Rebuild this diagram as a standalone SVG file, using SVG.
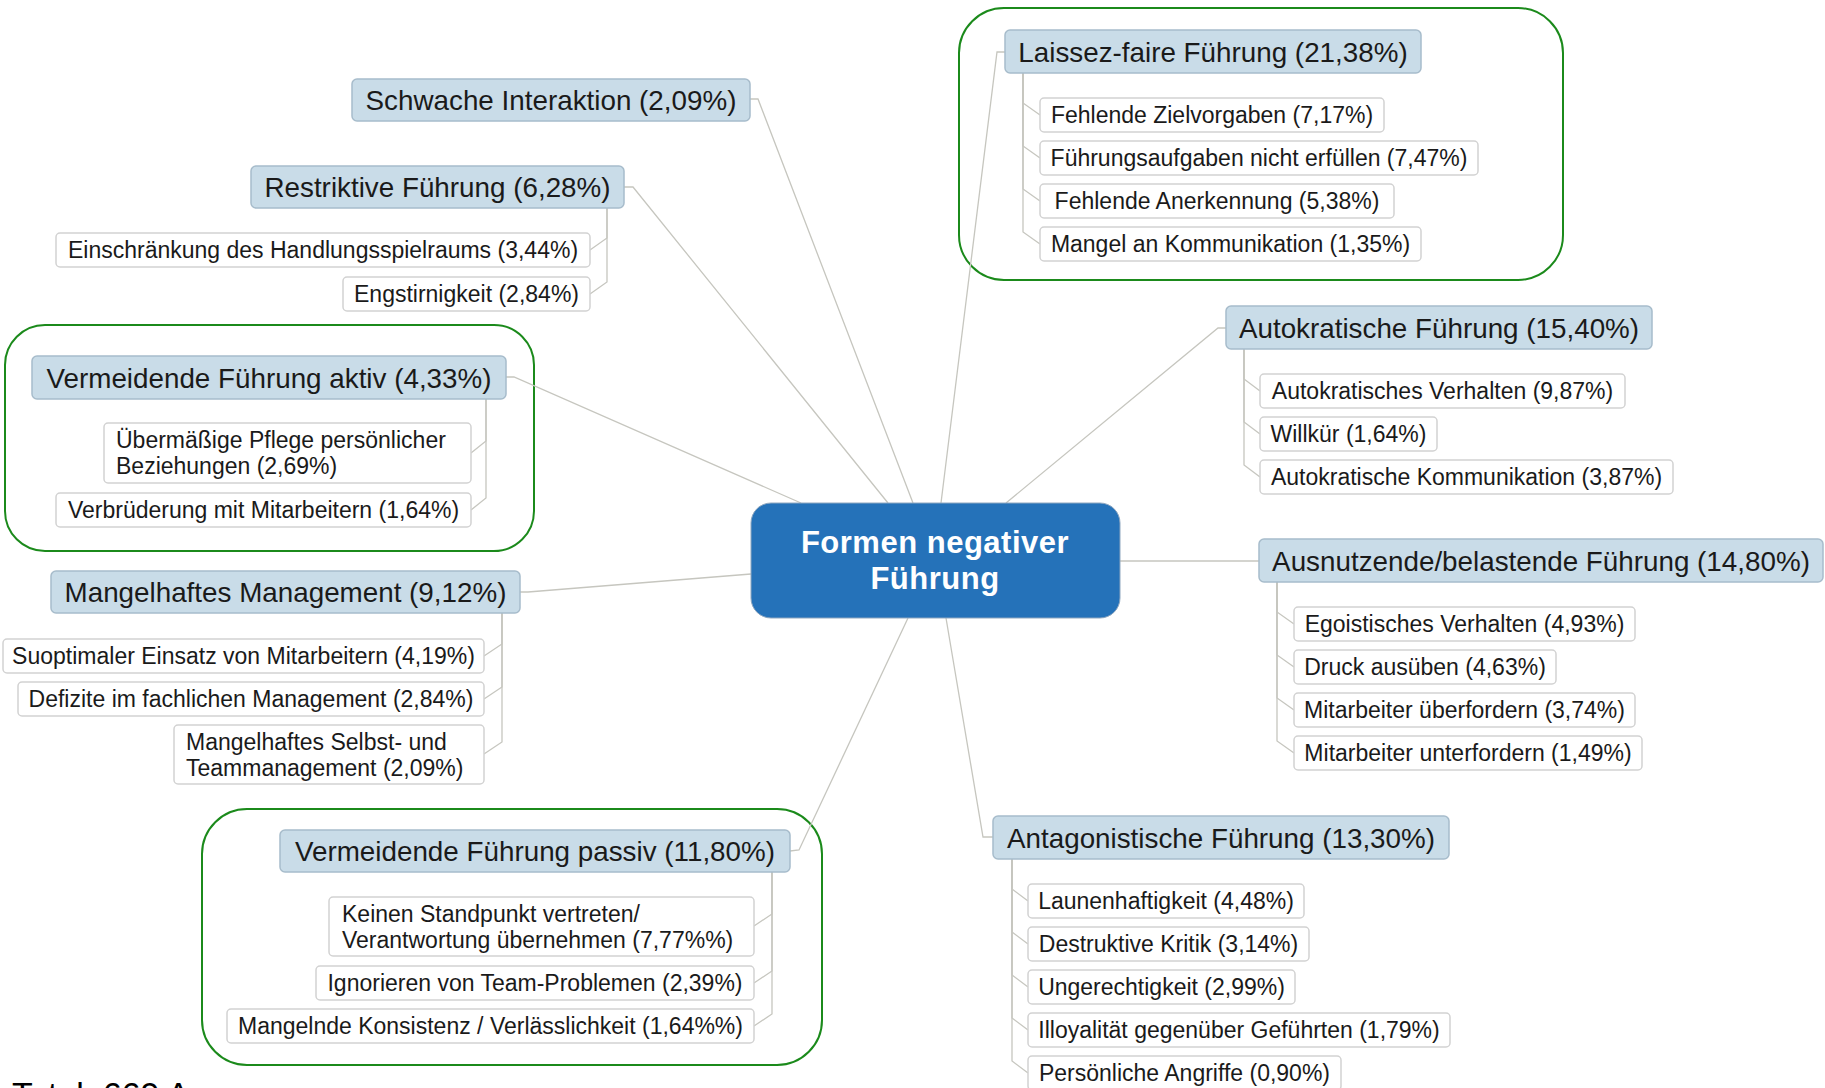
<svg xmlns="http://www.w3.org/2000/svg" width="1825" height="1088" viewBox="0 0 1825 1088">
<style>
  text { font-family: "Liberation Sans", Arial, sans-serif; fill: #1a1a1a; }
  .main rect { fill: #c9dce8; stroke: #a7bccb; stroke-width: 1.5; }
  .main text { font-size: 27.8px; text-anchor: middle; }
  .sub rect { fill: #ffffff; stroke: #d2d2d2; stroke-width: 1.5; }
  .sub text { font-size: 23px; text-anchor: middle; }
  .sub text.ml { text-anchor: start; }
  .grp { fill: none; stroke: #1b8a1b; stroke-width: 2; }
  #connectors path { fill: none; stroke: #c6c6bf; stroke-width: 1.3; }
  .center rect { fill: #2572b9; stroke: #8fa7c0; stroke-width: 1; }
  .center text { font-size: 31px; font-weight: bold; fill: #ffffff; text-anchor: middle; letter-spacing: 0.5px; }
  .total { font-size: 34px; fill: #000; }
</style>

<!-- group frames -->
<g id="groups">
  <rect class="grp" x="959" y="8" width="604" height="272" rx="45"/>
  <rect class="grp" x="5" y="325" width="529" height="226" rx="40"/>
  <rect class="grp" x="202" y="809" width="620" height="256" rx="45"/>
</g>

<g id="connectors">
  <!-- center to main branches -->
  <path d="M941 503 L997 52 L1005 52"/>
  <path d="M1006 503 L1218 328 L1226 328"/>
  <path d="M1120 561 L1259 561"/>
  <path d="M946 618 L983 837 L993 837"/>
  <path d="M913 503 L758 99 L750 99"/>
  <path d="M888 503 L633 187 L624 187"/>
  <path d="M801 503 L514 377 L506 377"/>
  <path d="M751 574 L528 592 L520 592"/>
  <path d="M908 618 L799 850 L790 851"/>
  <!-- Laissez-faire tree -->
  <path d="M1023 73 V103 L1040 115"/>
  <path d="M1023 73 V146 L1040 158"/>
  <path d="M1023 73 V189 L1040 201"/>
  <path d="M1023 73 V232 L1040 244"/>
  <!-- Autokratische tree -->
  <path d="M1244 349 V379 L1260 391"/>
  <path d="M1244 349 V422 L1260 434"/>
  <path d="M1244 349 V465 L1260 477"/>
  <!-- Ausnutzende tree -->
  <path d="M1277 582 V612 L1294 624"/>
  <path d="M1277 582 V655 L1294 667"/>
  <path d="M1277 582 V698 L1294 710"/>
  <path d="M1277 582 V741 L1294 753"/>
  <!-- Antagonistische tree -->
  <path d="M1012 859 V889 L1028 901"/>
  <path d="M1012 859 V932 L1028 944"/>
  <path d="M1012 859 V975 L1028 987"/>
  <path d="M1012 859 V1018 L1028 1030"/>
  <path d="M1012 859 V1061 L1028 1073"/>
  <!-- Restriktive tree -->
  <path d="M607 208 V238 L590 250"/>
  <path d="M607 208 V282 L590 294"/>
  <!-- Aktiv tree -->
  <path d="M486 399 V441 L471 453"/>
  <path d="M486 399 V498 L471 510"/>
  <!-- Mangelhaftes Management tree -->
  <path d="M502 613 V644 L484 656"/>
  <path d="M502 613 V687 L484 699"/>
  <path d="M502 613 V742 L484 754"/>
  <!-- Passiv tree -->
  <path d="M772 872 V914 L754 926"/>
  <path d="M772 872 V971 L754 983"/>
  <path d="M772 872 V1014 L754 1026"/>
</g>

<!-- central node -->
<g id="n-center" class="center">
  <rect x="751" y="503" width="369" height="115" rx="20"/>
  <text x="935" y="553">Formen negativer</text>
  <text x="935" y="589">Führung</text>
</g>

<!-- Laissez-faire -->
<g id="n-laissez" class="main">
  <rect x="1005" y="30" width="416" height="43" rx="5"/>
  <text x="1213" y="61.5">Laissez-faire Führung (21,38%)</text>
</g>
<g id="n-laissez-1" class="sub"><rect x="1040" y="98" width="344" height="34" rx="4"/><text x="1212" y="123">Fehlende Zielvorgaben (7,17%)</text></g>
<g id="n-laissez-2" class="sub"><rect x="1040" y="141" width="438" height="34" rx="4"/><text x="1259" y="166">Führungsaufgaben nicht erfüllen (7,47%)</text></g>
<g id="n-laissez-3" class="sub"><rect x="1040" y="184" width="354" height="34" rx="4"/><text x="1217" y="209">Fehlende Anerkennung (5,38%)</text></g>
<g id="n-laissez-4" class="sub"><rect x="1040" y="227" width="381" height="34" rx="4"/><text x="1230.5" y="252">Mangel an Kommunikation (1,35%)</text></g>

<!-- Autokratische -->
<g id="n-auto" class="main">
  <rect x="1226" y="306" width="426" height="43" rx="5"/>
  <text x="1439" y="337.5">Autokratische Führung (15,40%)</text>
</g>
<g id="n-auto-1" class="sub"><rect x="1260" y="374" width="365" height="34" rx="4"/><text x="1442.5" y="399">Autokratisches Verhalten (9,87%)</text></g>
<g id="n-auto-2" class="sub"><rect x="1260" y="417" width="177" height="34" rx="4"/><text x="1348.5" y="442">Willkür (1,64%)</text></g>
<g id="n-auto-3" class="sub"><rect x="1260" y="460" width="413" height="34" rx="4"/><text x="1466.5" y="485">Autokratische Kommunikation (3,87%)</text></g>

<!-- Ausnutzende -->
<g id="n-ausn" class="main">
  <rect x="1259" y="539" width="564" height="43" rx="5"/>
  <text x="1541" y="570.5">Ausnutzende/belastende Führung (14,80%)</text>
</g>
<g id="n-ausn-1" class="sub"><rect x="1294" y="607" width="341" height="34" rx="4"/><text x="1464.5" y="632">Egoistisches Verhalten (4,93%)</text></g>
<g id="n-ausn-2" class="sub"><rect x="1294" y="650" width="262" height="34" rx="4"/><text x="1425" y="675">Druck ausüben (4,63%)</text></g>
<g id="n-ausn-3" class="sub"><rect x="1294" y="693" width="341" height="34" rx="4"/><text x="1464.5" y="718">Mitarbeiter überfordern (3,74%)</text></g>
<g id="n-ausn-4" class="sub"><rect x="1294" y="736" width="348" height="34" rx="4"/><text x="1468" y="761">Mitarbeiter unterfordern (1,49%)</text></g>

<!-- Antagonistische -->
<g id="n-anta" class="main">
  <rect x="993" y="816" width="456" height="43" rx="5"/>
  <text x="1221" y="847.5">Antagonistische Führung (13,30%)</text>
</g>
<g id="n-anta-1" class="sub"><rect x="1028" y="884" width="276" height="34" rx="4"/><text x="1166" y="909">Launenhaftigkeit (4,48%)</text></g>
<g id="n-anta-2" class="sub"><rect x="1028" y="927" width="281" height="34" rx="4"/><text x="1168.5" y="952">Destruktive Kritik (3,14%)</text></g>
<g id="n-anta-3" class="sub"><rect x="1028" y="970" width="267" height="34" rx="4"/><text x="1161.5" y="995">Ungerechtigkeit (2,99%)</text></g>
<g id="n-anta-4" class="sub"><rect x="1028" y="1013" width="422" height="34" rx="4"/><text x="1239" y="1038">Illoyalität gegenüber Geführten (1,79%)</text></g>
<g id="n-anta-5" class="sub"><rect x="1028" y="1056" width="313" height="34" rx="4"/><text x="1184.5" y="1081">Persönliche Angriffe (0,90%)</text></g>

<!-- Schwache Interaktion -->
<g id="n-schw" class="main">
  <rect x="352" y="79" width="398" height="42" rx="5"/>
  <text x="551" y="110">Schwache Interaktion (2,09%)</text>
</g>

<!-- Restriktive -->
<g id="n-restr" class="main">
  <rect x="251" y="166" width="373" height="42" rx="5"/>
  <text x="437.5" y="197">Restriktive Führung (6,28%)</text>
</g>
<g id="n-restr-1" class="sub"><rect x="56" y="233" width="534" height="34" rx="4"/><text x="323" y="258">Einschränkung des Handlungsspielraums (3,44%)</text></g>
<g id="n-restr-2" class="sub"><rect x="343" y="277" width="247" height="34" rx="4"/><text x="466.5" y="302">Engstirnigkeit (2,84%)</text></g>

<!-- Vermeidende aktiv -->
<g id="n-aktiv" class="main">
  <rect x="32" y="356" width="474" height="43" rx="5"/>
  <text x="269" y="387.5">Vermeidende Führung aktiv (4,33%)</text>
</g>
<g id="n-aktiv-1" class="sub"><rect x="104" y="423" width="367" height="60" rx="4"/><text class="ml" x="116" y="448">Übermäßige Pflege persönlicher</text><text class="ml" x="116" y="473.5">Beziehungen (2,69%)</text></g>
<g id="n-aktiv-2" class="sub"><rect x="56" y="493" width="415" height="34" rx="4"/><text x="263.5" y="518">Verbrüderung mit Mitarbeitern (1,64%)</text></g>

<!-- Mangelhaftes Management -->
<g id="n-mgmt" class="main">
  <rect x="51" y="571" width="469" height="42" rx="5"/>
  <text x="285.5" y="602">Mangelhaftes Management (9,12%)</text>
</g>
<g id="n-mgmt-1" class="sub"><rect x="3" y="639" width="481" height="34" rx="4"/><text x="243.5" y="664">Suoptimaler Einsatz von Mitarbeitern (4,19%)</text></g>
<g id="n-mgmt-2" class="sub"><rect x="18" y="682" width="466" height="34" rx="4"/><text x="251" y="707">Defizite im fachlichen Management (2,84%)</text></g>
<g id="n-mgmt-3" class="sub"><rect x="174" y="725" width="310" height="59" rx="4"/><text class="ml" x="186" y="750">Mangelhaftes Selbst- und</text><text class="ml" x="186" y="775.5">Teammanagement (2,09%)</text></g>

<!-- Vermeidende passiv -->
<g id="n-passiv" class="main">
  <rect x="280" y="830" width="510" height="42" rx="5"/>
  <text x="535" y="861">Vermeidende Führung passiv (11,80%)</text>
</g>
<g id="n-passiv-1" class="sub"><rect x="329" y="897" width="425" height="59" rx="4"/><text class="ml" x="342" y="922">Keinen Standpunkt vertreten/</text><text class="ml" x="342" y="947.5">Verantwortung übernehmen (7,77%%)</text></g>
<g id="n-passiv-2" class="sub"><rect x="316" y="966" width="438" height="34" rx="4"/><text x="535" y="991">Ignorieren von Team-Problemen (2,39%)</text></g>
<g id="n-passiv-3" class="sub"><rect x="227" y="1009" width="527" height="34" rx="4"/><text x="490.5" y="1034">Mangelnde Konsistenz / Verlässlichkeit (1,64%%)</text></g>

<text class="total" x="12" y="1106">Total: 669 Aussagen</text>
</svg>
